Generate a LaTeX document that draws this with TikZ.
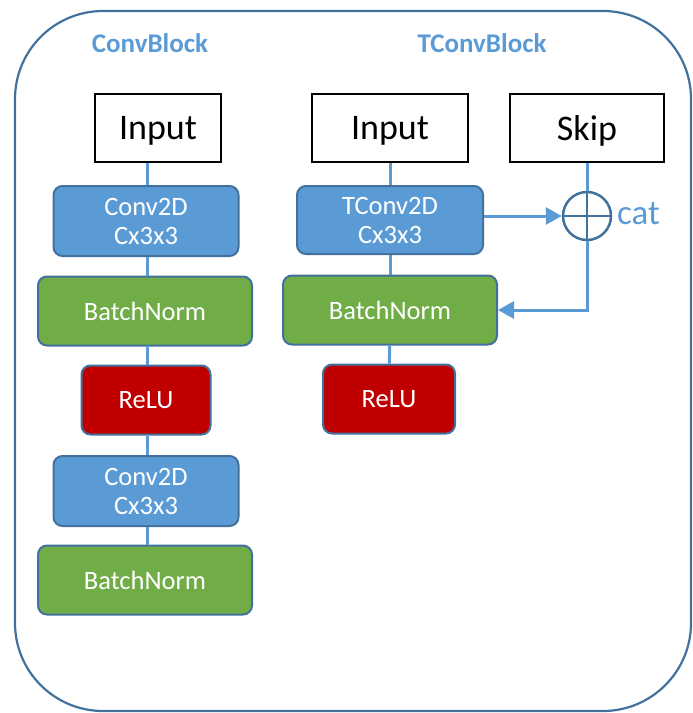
\documentclass[tikz,border=0pt]{standalone}
\usepackage{fontspec}
\setmainfont{Carlito}
\usetikzlibrary{arrows.meta}
\definecolor{lblue}{HTML}{5B9BD5}
\definecolor{dblue}{HTML}{41719C}
\definecolor{bgreen}{HTML}{70AD47}
\definecolor{bred}{HTML}{C00000}
\tikzset{
  inbox/.style={draw=black,line width=2pt,fill=white,inner sep=0pt,font=\fontsize{36}{40}\selectfont},
  layer/.style={draw=dblue,line width=2pt,rounded corners=9pt,inner sep=0pt,text=white,align=center,font=\fontsize{26.5}{29}\selectfont},
  convbox/.style={layer,fill=lblue},
  bnbox/.style={layer,fill=bgreen},
  relubox/.style={layer,fill=bred},
  conn/.style={draw=lblue,line width=3pt},
  arr/.style={conn,-{Triangle[length=16pt,width=17pt]}},
  title/.style={text=lblue,font=\fontsize{27}{30}\selectfont\bfseries},
}
\begin{document}
\begin{tikzpicture}[x=1pt,y=-1pt]
\useasboundingbox (0,0) rectangle (693,713);
\draw[dblue,line width=2.2pt,rounded corners=88pt] (15,11) rectangle (691,711);
\node[title] (t1) at (150,43) {ConvBlock};
\node[title] (t2) at (482,43) {TConvBlock};
% left column
\node[inbox,minimum width=126pt,minimum height=68pt,text depth=0pt] (in1) at (158,128) {Input};
\node[convbox,minimum width=185pt,minimum height=70pt] (c1) at (146,221) {Conv2D\\Cx3x3};
\node[bnbox,minimum width=214pt,minimum height=69pt] (b1) at (145,311) {BatchNorm};
\node[relubox,minimum width=129pt,minimum height=69pt] (r1) at (146,400) {ReLU};
\node[convbox,minimum width=185pt,minimum height=70pt] (c2) at (146,491) {Conv2D\\Cx3x3};
\node[bnbox,minimum width=214pt,minimum height=69pt] (b2) at (145,580) {BatchNorm};
\draw[conn] (in1.south -| 147,0) -- (c1.north -| 147,0);
\draw[conn] (c1.south -| 147,0) -- (b1.north -| 147,0);
\draw[conn] (b1.south -| 147,0) -- (r1.north -| 147,0);
\draw[conn] (r1.south -| 147,0) -- (c2.north -| 147,0);
\draw[conn] (c2.south -| 147,0) -- (b2.north -| 147,0);
% right column
\node[inbox,minimum width=156pt,minimum height=68pt,text depth=0pt] (in2) at (390,128) {Input};
\node[inbox,minimum width=154pt,minimum height=68pt,text depth=0pt] (sk) at (587,128) {Skip};
\node[convbox,minimum width=186pt,minimum height=68pt] (tc) at (390,220) {TConv2D\\Cx3x3};
\node[bnbox,minimum width=214pt,minimum height=69pt] (b3) at (390,310) {BatchNorm};
\node[relubox,minimum width=132pt,minimum height=69pt] (r3) at (389,399) {ReLU};
\node[draw=dblue,line width=2.5pt,circle,minimum size=48pt,inner sep=0pt] (cat) at (587,216) {};
\draw[dblue,line width=2.5pt] (cat.north) -- (cat.south) (cat.west) -- (cat.east);
\node[anchor=west,text=lblue,inner sep=0pt,font=\fontsize{35}{38}\selectfont] (catl) at (617,214) {cat};
\draw[conn] (in2) -- (tc);
\draw[conn] (tc) -- (b3);
\draw[conn] (b3) -- (r3);
\draw[conn] (sk) -- (cat);
\draw[arr] (tc.east |- cat) -- (cat.west);
\coordinate (bend) at (587,310);
\draw[arr] (cat.south) -- (bend) -- (b3.east);
\end{tikzpicture}
\end{document}
